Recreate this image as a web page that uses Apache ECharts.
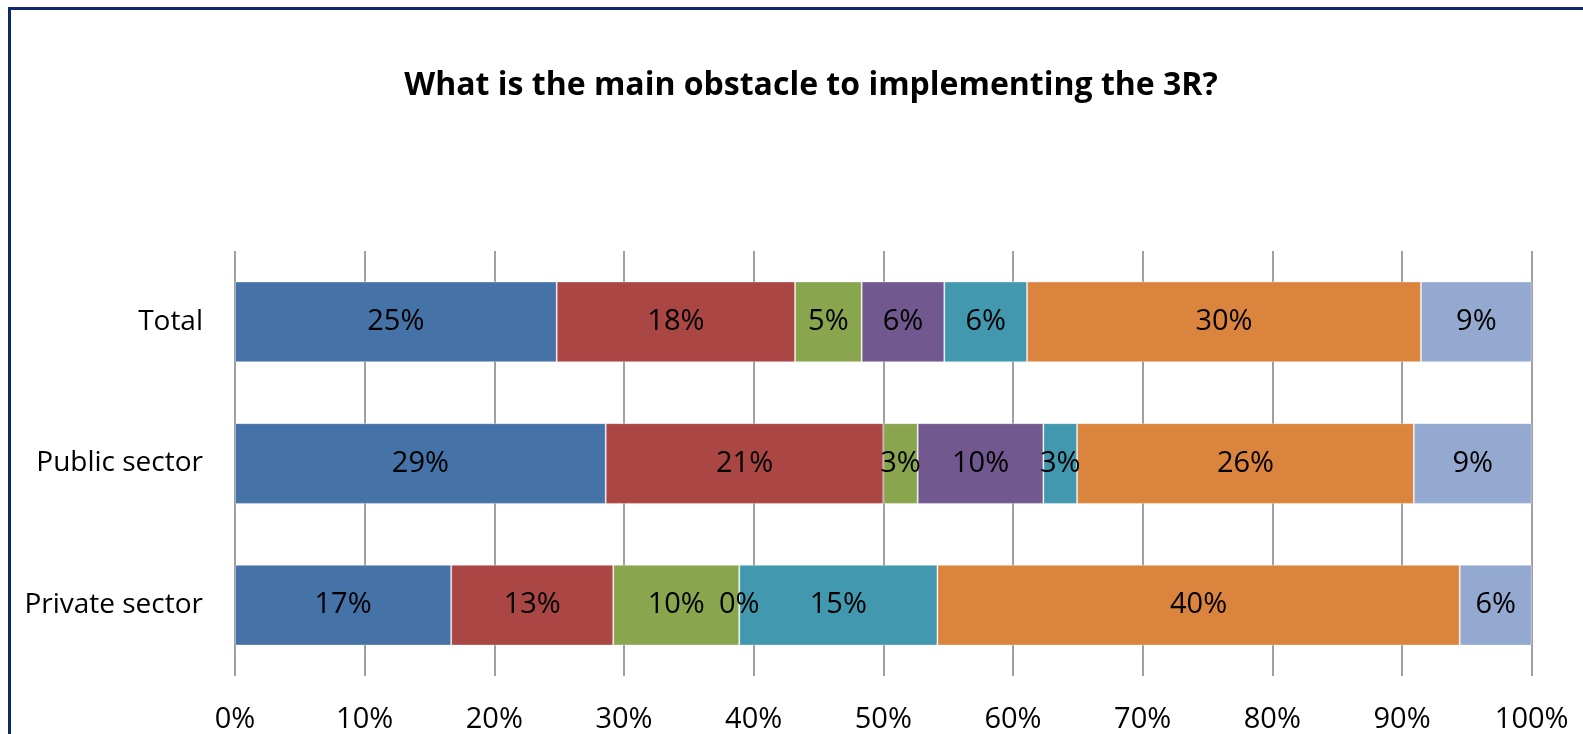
<!DOCTYPE html>
<html>
<head>
<meta charset="utf-8">
<script src="https://cdn.jsdelivr.net/npm/echarts@6/dist/echarts.min.js"></script>
<style>
html,body{margin:0;padding:0;background:#fff;}
#chart{width:1583px;height:734px;}
</style>
</head>
<body>
<div id="chart"></div>
<script>
const titleText = 'What is the main obstacle to implementing the 3R?';
const categories = ['Private sector', 'Public sector', 'Total'];
const seriesNames = ['Series 1', 'Series 2', 'Series 3', 'Series 4', 'Series 5', 'Series 6', 'Series 7'];
const s1 = [16.67, 28.59, 24.81];
const s2 = [12.50, 21.41, 18.38];
const s3 = [9.72, 2.65, 5.14];
const s4 = [0, 9.69, 6.37];
const s5 = [15.28, 2.60, 6.38];
const s6 = [40.28, 25.97, 30.38];
const s7 = [5.56, 9.09, 8.54];
const colors = ['#4572A7', '#AA4643', '#89A54E', '#71588F', '#4198AF', '#DB843D', '#93A9CF'];

const seriesData = [s1, s2, s3, s4, s5, s6, s7];
const FONT = '"Open Sans", "Noto Sans", sans-serif';

const chart = echarts.init(document.getElementById('chart'), null, {renderer: 'canvas'});
chart.setOption({
  animation: false,
  backgroundColor: '#ffffff',
  title: {
    text: titleText,
    left: 806,
    top: 65,
    textAlign: 'center',
    textStyle: {fontFamily: FONT, fontWeight: 'bold', fontSize: 32, color: '#000'}
  },
  graphic: [{
    type: 'rect',
    shape: {x: 9.5, y: 8.5, width: 1700, height: 900},
    style: {fill: 'none', stroke: '#0f2a6b', lineWidth: 3},
    z: 100
  }],
  grid: {left: 235, right: 51.3, top: 251, bottom: 55.6, containLabel: false},
  xAxis: {
    type: 'value',
    min: 0, max: 100, interval: 10,
    axisLine: {show: false},
    axisTick: {show: false},
    splitLine: {show: true, lineStyle: {color: '#a0a0a0', width: 2}},
    axisLabel: {formatter: '{value}%', fontFamily: FONT, fontSize: 29, color: '#000', margin: 29}
  },
  yAxis: {
    type: 'category',
    data: categories,
    axisLine: {show: false},
    axisTick: {show: false},
    axisLabel: {fontFamily: FONT, fontSize: 28, color: '#000', margin: 32}
  },
  series: seriesData.map((d, i) => ({
    name: seriesNames[i],
    type: 'bar',
    stack: 'all',
    data: d,
    barCategoryGap: '43%',
    itemStyle: {color: colors[i], borderColor: 'rgba(255,255,255,0.35)', borderWidth: 1},
    label: {
      show: true,
      position: 'inside',
      formatter: p => Math.round(p.value) + '%',
      fontFamily: FONT, fontSize: 29, color: '#000'
    }
  }))
});
</script>
</body>
</html>
